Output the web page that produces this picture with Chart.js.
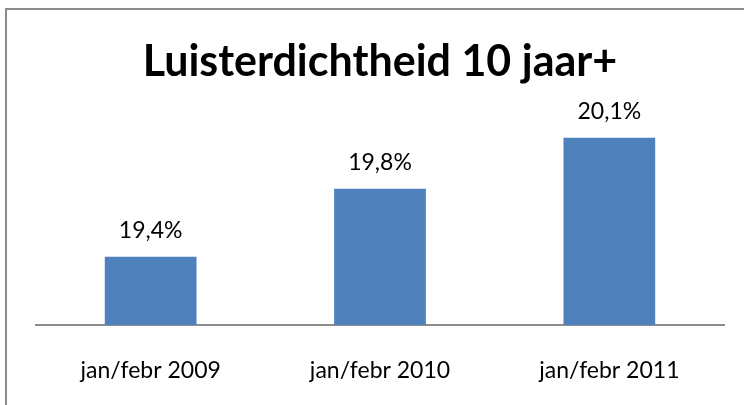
<!DOCTYPE html>
<html>
<head>
<meta charset="utf-8">
<script src="https://cdn.jsdelivr.net/npm/chart.js@4"></script>
<style>
  html, body { margin: 0; padding: 0; background: #fff; overflow: hidden; }
  #frame { position: absolute; left: 5px; top: 8px; width: 800px; height: 500px; border: 2px solid #8c8c8c; box-sizing: border-box; }
  #wrap { position: absolute; left: 0; top: 0; width: 744px; height: 405px; }
</style>
</head>
<body>
<div id="frame"></div>
<div id="wrap"><canvas id="chart"></canvas></div>
<script>
/* Luisterdichtheid 10 jaar+ */

const periods = ['jan/febr 2009', 'jan/febr 2010', 'jan/febr 2011'];
const density = [19.4, 19.8, 20.1];
const yMin = 19.0;
const yMax = 20.2;

const FONT = 'Lato, "Open Sans", sans-serif';

// waarde boven elke staaf, met komma als decimaalteken
const valueLabels = {
    id: 'valueLabels',
    afterDatasetsDraw(chart) {
        const ctx = chart.ctx;
        const meta = chart.getDatasetMeta(0);
        ctx.save();
        ctx.font = '23px ' + FONT;
        ctx.fillStyle = '#000';
        ctx.textAlign = 'center';
        ctx.textBaseline = 'middle';
        meta.data.forEach((bar, i) => {
            const txt = density[i].toFixed(1).replace('.', ',') + '%';
            ctx.fillText(txt, bar.x, bar.y - 26);
        });
        ctx.restore();
    }
};

new Chart(document.getElementById('chart').getContext('2d'), {
    type: 'bar',
    data: {
        labels: periods,
        datasets: [{
            data: density,
            backgroundColor: '#4F81BD',
            borderWidth: 0,
            barPercentage: 0.4,
            categoryPercentage: 1.0,
        }]
    },
    options: {
        responsive: true,
        maintainAspectRatio: false,
        animation: false,
        layout: { padding: { left: 36, right: 20, top: 0, bottom: 20 } },
        scales: {
            x: {
                grid: { display: false, drawTicks: false },
                border: { display: true, color: '#8c8c8c', width: 2 },
                ticks: {
                    padding: 32,
                    color: '#000',
                    maxRotation: 0,
                    font: { family: FONT, size: 23 }
                },
                afterFit(scale) { scale.height = 60; }
            },
            y: {
                display: false,
                min: yMin,
                max: yMax,
            }
        },
        plugins: {
            legend: { display: false },
            tooltip: { enabled: false },
            title: {
                display: true,
                text: 'Luisterdichtheid 10 jaar+',
                color: '#000',
                font: { family: FONT, size: 43, weight: 'bold', lineHeight: 1.2 },
                padding: { top: 36, bottom: 33 }
            }
        }
    },
    plugins: [valueLabels]
});
</script>
</body>
</html>
